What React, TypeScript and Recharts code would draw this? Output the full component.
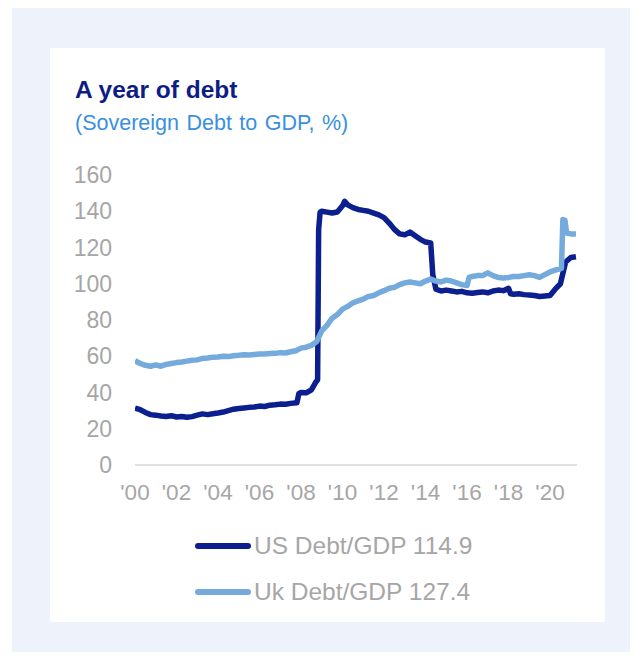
import { Line, LineChart, XAxis, YAxis } from "recharts";

// [year, % of GDP]
const usDebt: [number, number][] = [
  [2000.0, 31.4], [2000.25, 30.5], [2000.5, 29.0], [2000.75, 27.8],
  [2001.0, 27.5], [2001.25, 27.0], [2001.5, 26.8], [2001.75, 27.2],
  [2002.0, 26.5], [2002.25, 26.8], [2002.5, 26.3], [2002.75, 26.7],
  [2003.0, 27.5], [2003.25, 28.2], [2003.5, 27.8], [2003.75, 28.3],
  [2004.0, 28.7], [2004.25, 29.2], [2004.5, 30.0], [2004.75, 30.8],
  [2005.0, 31.2], [2005.25, 31.5], [2005.5, 31.8], [2005.75, 32.0],
  [2006.0, 32.5], [2006.25, 32.3], [2006.5, 33.0], [2006.75, 33.2],
  [2007.0, 33.6], [2007.25, 33.5], [2007.5, 34.0], [2007.8, 34.3],
  [2007.9, 39.5], [2008.0, 40.0], [2008.25, 39.8], [2008.5, 41.5],
  [2008.7, 45.5], [2008.8, 47.0], [2008.85, 130.0], [2008.92, 139.5],
  [2009.0, 140.0], [2009.25, 139.5], [2009.5, 139.0], [2009.75, 139.6],
  [2010.0, 143.0], [2010.1, 145.5], [2010.25, 143.5], [2010.5, 142.0],
  [2010.75, 141.0], [2011.0, 140.5], [2011.25, 140.0], [2011.5, 139.0],
  [2011.75, 138.0], [2012.0, 136.5], [2012.25, 133.5], [2012.5, 130.0],
  [2012.75, 127.5], [2013.0, 127.0], [2013.25, 128.5], [2013.5, 126.5],
  [2013.75, 124.5], [2014.0, 123.0], [2014.25, 122.5], [2014.35, 105.0],
  [2014.5, 97.0], [2014.75, 96.0], [2015.0, 96.5], [2015.25, 96.0],
  [2015.5, 95.5], [2015.75, 95.8], [2016.0, 95.0], [2016.25, 94.8],
  [2016.5, 95.2], [2016.75, 95.5], [2017.0, 95.0], [2017.25, 96.0],
  [2017.5, 96.5], [2017.75, 96.2], [2018.0, 97.5], [2018.1, 94.5],
  [2018.25, 94.2], [2018.5, 94.5], [2018.75, 94.0], [2019.0, 93.8],
  [2019.25, 93.5], [2019.5, 93.0], [2019.75, 93.3], [2020.0, 93.5],
  [2020.25, 97.0], [2020.5, 100.0], [2020.75, 112.0], [2021.0, 114.5],
  [2021.25, 114.9],
];

const ukDebt: [number, number][] = [
  [2000.0, 57.5], [2000.25, 56.0], [2000.5, 55.0], [2000.75, 54.5],
  [2001.0, 55.2], [2001.25, 54.5], [2001.5, 55.5], [2001.75, 56.0],
  [2002.0, 56.5], [2002.25, 56.8], [2002.5, 57.3], [2002.75, 57.8],
  [2003.0, 58.0], [2003.25, 58.8], [2003.5, 59.0], [2003.75, 59.5],
  [2004.0, 59.6], [2004.25, 60.0], [2004.5, 59.8], [2004.75, 60.3],
  [2005.0, 60.5], [2005.25, 60.8], [2005.5, 60.7], [2005.75, 61.0],
  [2006.0, 61.2], [2006.25, 61.3], [2006.5, 61.5], [2006.75, 61.6],
  [2007.0, 62.0], [2007.25, 61.8], [2007.5, 62.5], [2007.75, 63.0],
  [2008.0, 64.5], [2008.25, 65.0], [2008.5, 66.0], [2008.75, 68.0],
  [2009.0, 74.0], [2009.25, 77.0], [2009.5, 81.0], [2009.75, 83.0],
  [2010.0, 86.0], [2010.25, 87.5], [2010.5, 89.5], [2010.75, 90.5],
  [2011.0, 91.5], [2011.25, 93.0], [2011.5, 93.5], [2011.75, 95.0],
  [2012.0, 96.2], [2012.25, 97.5], [2012.5, 98.0], [2012.75, 99.5],
  [2013.0, 100.5], [2013.25, 101.0], [2013.5, 100.5], [2013.75, 100.0],
  [2014.0, 101.5], [2014.25, 102.5], [2014.5, 101.5], [2014.75, 101.0],
  [2015.0, 102.0], [2015.25, 101.5], [2015.5, 100.5], [2015.75, 99.5],
  [2016.0, 99.0], [2016.1, 103.5], [2016.25, 104.0], [2016.5, 104.5],
  [2016.75, 104.5], [2017.0, 106.0], [2017.25, 104.5], [2017.5, 103.5],
  [2017.75, 103.2], [2018.0, 103.5], [2018.25, 104.0], [2018.5, 104.0],
  [2018.75, 104.5], [2019.0, 105.0], [2019.25, 104.5], [2019.5, 103.5],
  [2019.75, 105.0], [2020.0, 106.5], [2020.25, 107.5], [2020.55, 108.5],
  [2020.62, 135.5], [2020.72, 135.0], [2020.8, 128.0], [2021.0, 127.5],
  [2021.25, 127.4],
];

const yearTicks = [2000, 2002, 2004, 2006, 2008, 2010, 2012, 2014, 2016, 2018, 2020];
const valueTicks = [0, 20, 40, 60, 80, 100, 120, 140, 160];

const seriesNames = ["US Debt/GDP 114.9", "Uk Debt/GDP 127.4"];
const seriesColors = ["#0b1f8e", "#74aadc"];

const font = '"Liberation Sans", Arial, sans-serif';
const grey = "#a6a6a6";

const toRows = (points: [number, number][]) => points.map(([t, v]) => ({ t, v }));

export default function App() {
  return (
    <div
      style={{
        position: "relative",
        width: 638,
        height: 660,
        margin: -8,
        background: "#ffffff",
        fontFamily: font,
        overflow: "hidden",
      }}
    >
      <div style={{ position: "absolute", left: 12, top: 8, width: 626, height: 652, background: "#eef3fb" }} />
      <div style={{ position: "absolute", left: 50, top: 48, width: 555, height: 574, background: "#ffffff" }} />

      <div style={{ position: "absolute", left: 75, top: 76, fontSize: 24.5, fontWeight: 700, color: "#0d1d86" }}>
        A year of debt
      </div>
      <div style={{ position: "absolute", left: 75, top: 111, fontSize: 21.5, wordSpacing: 1.5, color: "#3a8fe0" }}>
        (Sovereign Debt to GDP, %)
      </div>

      <div style={{ position: "absolute", left: 0, top: 0 }}>
        <LineChart width={638} height={520} margin={{ top: 175, right: 61, bottom: 25, left: 75 }}>
          <XAxis
            type="number"
            dataKey="t"
            domain={[2000, 2021.3]}
            ticks={yearTicks}
            interval={0}
            allowDataOverflow
            tickFormatter={(y: number) => "'" + String(y).slice(2)}
            tick={{ fill: grey, fontSize: 22.5, fontFamily: font }}
            tickLine={false}
            tickMargin={13}
            axisLine={{ stroke: "#d9d9d9", strokeWidth: 1.5 }}
            height={30}
          />
          <YAxis
            type="number"
            domain={[0, 160]}
            ticks={valueTicks}
            interval={0}
            tick={{ fill: grey, fontSize: 23, fontFamily: font }}
            tickLine={false}
            tickMargin={17}
            axisLine={false}
            width={60}
          />
          <Line
            data={toRows(usDebt)}
            dataKey="v"
            type="linear"
            stroke={seriesColors[0]}
            strokeWidth={5.5}
            strokeLinejoin="round"
            dot={false}
            isAnimationActive={false}
          />
          <Line
            data={toRows(ukDebt)}
            dataKey="v"
            type="linear"
            stroke={seriesColors[1]}
            strokeWidth={5.5}
            strokeLinejoin="round"
            dot={false}
            isAnimationActive={false}
          />
        </LineChart>
      </div>

      {seriesNames.map((name, i) => (
        <div
          key={name}
          style={{
            position: "absolute",
            left: 195,
            top: 532 + i * 46,
            height: 28,
            display: "flex",
            alignItems: "center",
          }}
        >
          <div style={{ width: 56, height: 6, borderRadius: 3, background: seriesColors[i] }} />
          <span style={{ marginLeft: 3, fontSize: 24.5, color: grey, whiteSpace: "nowrap" }}>{name}</span>
        </div>
      ))}
    </div>
  );
}
